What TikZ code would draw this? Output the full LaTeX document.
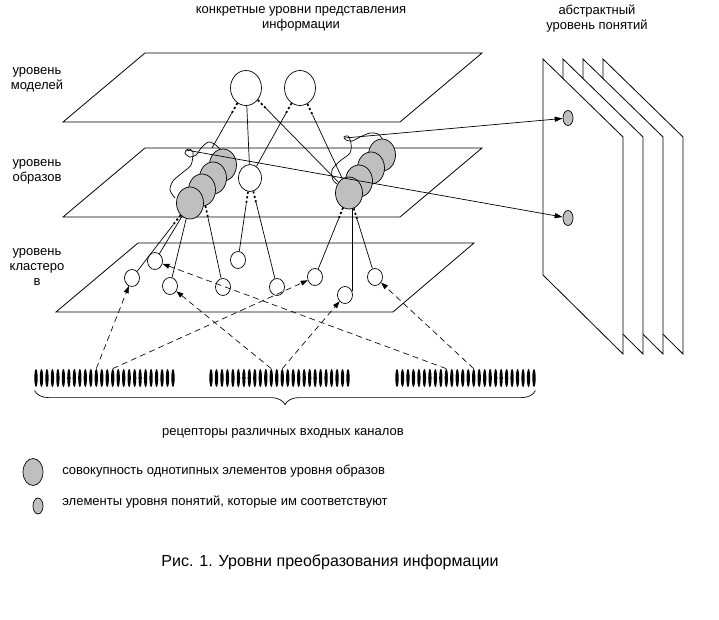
\documentclass[tikz,border=0pt]{standalone}
\usepackage{fontspec}
\setmainfont{Liberation Sans}
\usetikzlibrary{shapes.geometric,arrows.meta,decorations.pathreplacing}
\tikzset{
	lbl/.style={font=\fontsize{13}{15}\selectfont,align=center,inner sep=0pt},
	plane/.style={line width=0.8pt},
	big/.style={draw,ellipse,fill=white,minimum width=31pt,minimum height=35pt,inner sep=0pt},
	img/.style={draw,ellipse,fill=white,minimum width=23pt,minimum height=27pt,inner sep=0pt},
	ball/.style={draw,ellipse,fill=gray!50,minimum width=27pt,minimum height=32pt,inner sep=0pt},
	clu/.style={draw,ellipse,fill=white,minimum width=15pt,minimum height=17pt,inner sep=0pt},
	cpt/.style={draw,ellipse,fill=gray!50,minimum width=10pt,minimum height=15pt,inner sep=0pt},
	rec/.style={fill=black,ellipse,minimum width=3.3pt,minimum height=18pt,inner sep=0pt},
	dothead/.style={line width=1.7pt,dash pattern=on 2.2pt off 2.4pt on 2.2pt off 2.4pt on 2.2pt off 1000pt},
	feed/.style={line width=0.65pt,dash pattern=on 6pt off 4pt,-{Triangle[length=7pt,width=5pt]}},
	goal/.style={line width=0.7pt,-{Triangle[length=8pt,width=5pt]}}
}
% link with a dotted start
\newcommand{\dlink}[2]{\draw[dothead] (#1) -- (#2); \draw[shorten <=12pt] (#1) -- (#2);}
\begin{document}
\begin{tikzpicture}[x=1pt,y=-1pt,line width=0.7pt]
	\useasboundingbox (0,0) rectangle (719,620);
	% levels
	\draw[plane] (63,122) -- (400,122) -- (482,53) -- (145,53) -- cycle;
	\draw[plane] (63,217) -- (400,217) -- (482,148) -- (145,148) -- cycle;
	\draw[plane] (56,312) -- (393,312) -- (474,243) -- (138,243) -- cycle;
	\foreach \d in {60,40,20,0}
	\draw[plane,fill=white] (543+\d,59) -- (623+\d,137) -- (623+\d,354) -- (543+\d,275) -- cycle;
	% outlines of the groups
	\draw plot[smooth] coordinates {(222,153) (217,146) (209,142) (202,147) (196,155) (190,157) (185,153) (188,149) (193,152) (191,165) (182,173) (173,181) (170,190) (175,198)};
	\draw plot[smooth] coordinates {(383,140) (378,134) (370,133) (360,137) (352,141) (346,140) (344,137) (348,136) (351,143) (350,153) (340,161) (332,170) (333,180) (337,184)};
	\coordinate (lgs) at (186,150);
	\coordinate (rgs) at (345,138);
	\coordinate (lgt) at (212,148);
	% nodes
	\node[big] (m1) at (246,88) {};
	\node[big] (m2) at (300,88) {};
	\node[img] (w) at (250,178) {};
	\node[ball] (gl4) at (223,165) {};
	\node[ball] (gl3) at (213,178) {};
	\node[ball] (gl2) at (202,190) {};
	\node[ball] (gl1) at (190,203) {};
	\node[ball] (gr4) at (382,155) {};
	\node[ball] (gr3) at (371,168) {};
	\node[ball] (gr2) at (359,181) {};
	\node[ball] (gr1) at (349,193) {};
	\foreach \n/\x/\y in {1/132/278,2/155/261,3/170/286,4/238/260,5/223/287,6/277/287,7/315/277,8/345/295,9/375/277}
	\node[clu] (c\n) at (\x,\y) {};
	\node[cpt] (p1) at (568,118) {};
	\node[cpt] (p2) at (568,218) {};
	\foreach \g/\x in {a/36,b/211,c/397}
	\foreach \i in {1,...,26}
	\node[rec] (r\g-\i) at ({\x+(\i-1)*5.48},378) {};
	% links
	\dlink{m1}{lgt}
	\draw (m1) -- (w);
	\dlink{m1}{gr1}
	\dlink{m2}{w}
	\dlink{m2}{gr1}
	\dlink{gl1}{c1}
	\draw (gl1) -- (c2);
	\draw (gl1) -- (c3);
	\dlink{gl2}{c5}
	\dlink{w}{c4}
	\dlink{w}{c6}
	\dlink{gr1}{c7}
	\draw (c8.30 |- gr1.south) -- (c8.30);
	\dlink{gr1}{c9}
	\draw[feed] (ra-12.north) -- (c1);
	\draw[feed] (ra-15.north) -- (c7);
	\draw[feed] (rb-12.north) -- (c3);
	\draw[feed] (rb-14.north) -- (c8);
	\draw[feed] (rc-10.north) -- (c2);
	\draw[feed] (rc-15.north) -- (c9);
	\draw[goal] (rgs) -- (p1);
	\draw[goal] (lgs) -- (p2);
	\draw[decorate,decoration={brace,mirror,amplitude=14pt}] ([yshift=-6pt]ra-1.south west) -- ([yshift=-6pt]rc-26.south east);
	% texts
	\node[lbl] (t1) at (301,19) {конкретные уровни представления\\информации};
	\node[lbl] (t2) at (597,19) {абстрактный\\уровень понятий};
	\node[lbl] (t3) at (37,80) {уровень\\моделей};
	\node[lbl] (t4) at (37,172) {уровень\\образов};
	\node[lbl] (t5) at (37,267) {уровень\\кластеро\\в};
	\node[lbl] (t6) at (283,433) {рецепторы различных входных каналов};
	\node[ball,minimum width=20pt,minimum height=27pt] (lg1) at (33,472) {};
	\node[lbl,anchor=west] (t7) at (62,471) {совокупность однотипных элементов уровня образов};
	\node[cpt,minimum height=16pt] (lg2) at (38,506) {};
	\node[lbl,anchor=west] (t8) at (62,502) {элементы уровня понятий, которые им соответствуют};
	\node[lbl,font=\fontsize{16}{18}\selectfont] (t9) at (330,562) {Рис. 1. Уровни преобразования информации};
\end{tikzpicture}
\end{document}
